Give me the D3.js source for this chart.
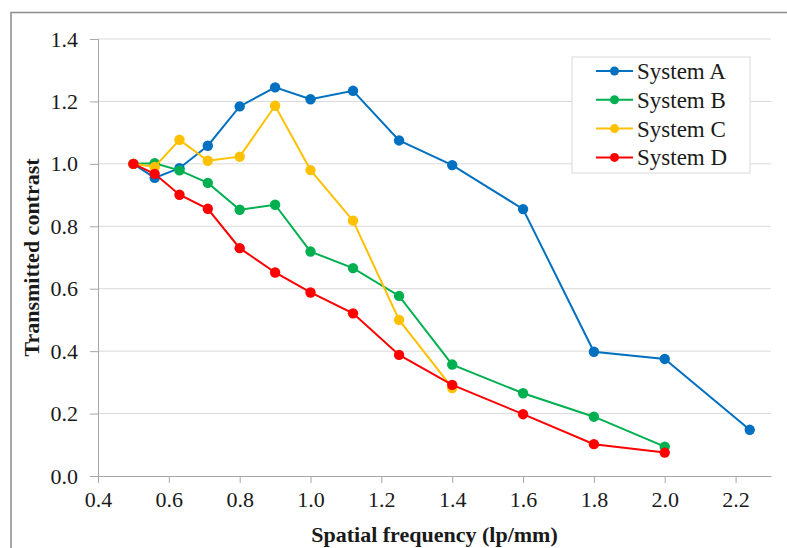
<!DOCTYPE html>
<html>
<head>
<meta charset="utf-8">
<script src="https://cdn.jsdelivr.net/npm/d3@7"></script>
<style>
  body { margin: 0; background: #fff; }
</style>
</head>
<body>
<div id="chart"></div>
<script>
// spatial frequencies (lp/mm)
var freqs = [0.5, 0.56, 0.63, 0.71, 0.8, 0.9, 1.0, 1.12, 1.25, 1.4, 1.6, 1.8, 2.0, 2.24];

var systemA = [1.0, 0.955, 0.986, 1.058, 1.184, 1.245, 1.207, 1.234, 1.075, 0.996, 0.855, 0.398, 0.375, 0.148];
var systemB = [1.0, 1.002, 0.979, 0.939, 0.853, 0.869, 0.719, 0.666, 0.577, 0.357, 0.265, 0.19, 0.094];
var systemC = [1.0, 0.99, 1.077, 1.01, 1.023, 1.186, 0.98, 0.818, 0.5, 0.282];
var systemD = [1.0, 0.968, 0.901, 0.856, 0.73, 0.652, 0.588, 0.521, 0.388, 0.292, 0.198, 0.102, 0.075];

var seriesNames = ["System A", "System B", "System C", "System D"];
var seriesColors = ["#0070C0", "#00B050", "#FFC000", "#FF0000"];
var xTicks = [0.4, 0.6, 0.8, 1.0, 1.2, 1.4, 1.6, 1.8, 2.0, 2.2];
var yTicks = [0.0, 0.2, 0.4, 0.6, 0.8, 1.0, 1.2, 1.4];

var FONT = "'Liberation Serif', 'Times New Roman', Times, serif";

var W = 787, H = 548;
var margin = { left: 98, right: 16, top: 39, bottom: 72 };
var width = W - margin.left - margin.right,
    height = H - margin.top - margin.bottom;

var svg = d3.select("#chart")
    .append("svg")
        .attr("width", W)
        .attr("height", H)
        .style("font-family", FONT);

// outer frame (cut by the image edge on right and bottom)
svg.append("path")
    .attr("d", "M11," + H + " V12.5 H" + W)
    .attr("fill", "none")
    .attr("stroke", "#8c8c8c")
    .attr("stroke-width", 1.5);

var g = svg.append("g")
    .attr("transform", "translate(" + margin.left + "," + margin.top + ")");

var x = d3.scaleLinear().domain([0.4, 2.3]).range([0, width]);
var y = d3.scaleLinear().domain([0, 1.4]).range([height, 0]);

// gridlines
g.append("g")
    .selectAll("line")
    .data(yTicks.slice(1))
    .enter()
    .append("line")
        .attr("x1", 0)
        .attr("x2", width)
        .attr("y1", function(d){ return y(d); })
        .attr("y2", function(d){ return y(d); })
        .attr("stroke", "#d9d9d9")
        .attr("stroke-width", 1);

// y axis
var yAxis = g.append("g")
    .call(d3.axisLeft(y).tickValues(yTicks).tickFormat(d3.format(".1f")).tickSize(8).tickPadding(12));
yAxis.attr("font-family", null).attr("font-size", null);
yAxis.select(".domain").attr("stroke", "#a6a6a6");
yAxis.selectAll(".tick line").attr("stroke", "#a6a6a6");
yAxis.selectAll("text")
    .style("font-family", FONT)
    .style("font-size", "22px")
    .attr("fill", "#1a1a1a");

// x axis
var xAxis = g.append("g")
    .attr("transform", "translate(0," + height + ")")
    .call(d3.axisBottom(x).tickValues(xTicks).tickFormat(d3.format(".1f")).tickSize(7).tickPadding(8).tickSizeOuter(0));
xAxis.attr("font-family", null).attr("font-size", null);
xAxis.select(".domain").attr("stroke", "#a6a6a6");
xAxis.selectAll(".tick line").attr("stroke", "#a6a6a6");
xAxis.selectAll("text")
    .style("font-family", FONT)
    .style("font-size", "22px")
    .attr("fill", "#1a1a1a");

// axis titles
svg.append("text")
    .attr("x", margin.left + width / 2)
    .attr("y", 542)
    .attr("text-anchor", "middle")
    .style("font-family", FONT)
    .style("font-size", "22px")
    .style("font-weight", "bold")
    .attr("fill", "#1a1a1a")
    .text("Spatial frequency (lp/mm)");

svg.append("text")
    .attr("transform", "translate(39," + (margin.top + height / 2) + ") rotate(-90)")
    .attr("text-anchor", "middle")
    .style("font-family", FONT)
    .style("font-size", "22px")
    .style("font-weight", "bold")
    .attr("fill", "#1a1a1a")
    .text("Transmitted contrast");

// series
var allSeries = [systemA, systemB, systemC, systemD];
var line = d3.line()
    .x(function(d){ return x(d[0]); })
    .y(function(d){ return y(d[1]); });

allSeries.forEach(function(vals, i){
    var pts = vals.map(function(v, j){ return [freqs[j], v]; });
    var sg = g.append("g");
    sg.append("path")
        .datum(pts)
        .attr("d", line)
        .attr("fill", "none")
        .attr("stroke", seriesColors[i])
        .attr("stroke-width", 2);
    sg.selectAll("circle")
        .data(pts)
        .enter()
        .append("circle")
            .attr("cx", function(d){ return x(d[0]); })
            .attr("cy", function(d){ return y(d[1]); })
            .attr("r", 5.2)
            .attr("fill", seriesColors[i]);
});

// legend
var legend = svg.append("g")
    .attr("transform", "translate(572,57)");
legend.append("rect")
    .attr("width", 178)
    .attr("height", 116)
    .attr("fill", "#fff")
    .attr("stroke", "#d9d9d9");

seriesNames.forEach(function(name, i){
    var ly = 14 + i * 28.8;
    legend.append("line")
        .attr("x1", 24).attr("x2", 61)
        .attr("y1", ly).attr("y2", ly)
        .attr("stroke", seriesColors[i])
        .attr("stroke-width", 2);
    legend.append("circle")
        .attr("cx", 42.5).attr("cy", ly)
        .attr("r", 4.5)
        .attr("fill", seriesColors[i]);
    legend.append("text")
        .attr("x", 65)
        .attr("y", ly)
        .attr("dy", "0.35em")
        .style("font-family", FONT)
        .style("font-size", "23px")
        .attr("fill", "#1a1a1a")
        .text(name);
});
</script>
</body>
</html>
